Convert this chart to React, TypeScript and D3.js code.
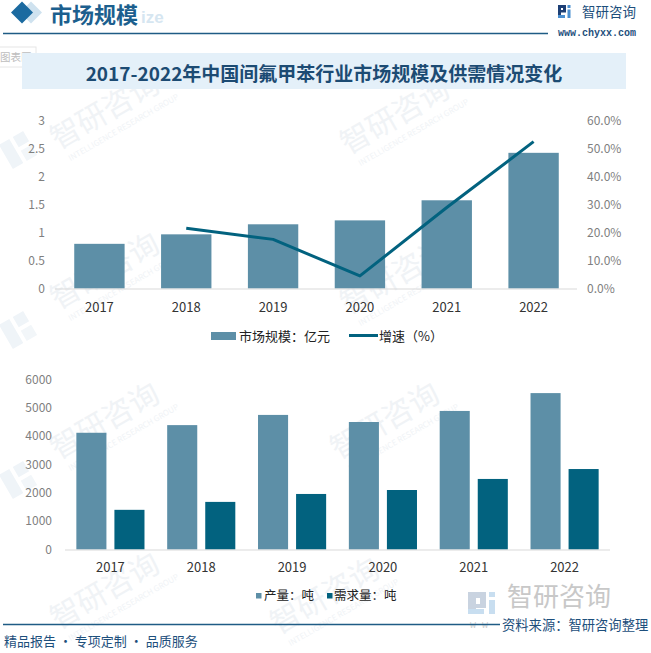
import React from "react";
import * as d3 from "d3";

const years = ["2017", "2018", "2019", "2020", "2021", "2022"];
const marketSize = [0.8, 0.97, 1.15, 1.22, 1.58, 2.43];
const growthRate: (number | null)[] = [null, 0.216, 0.176, 0.045, 0.29, 0.526];
const production = [4120, 4390, 4750, 4500, 4890, 5520];
const demand = [1400, 1680, 1960, 2100, 2490, 2840];

const leftTicksTop = [0, 0.5, 1, 1.5, 2, 2.5, 3];
const rightTicksTop = [0, 0.1, 0.2, 0.3, 0.4, 0.5, 0.6];
const ticksBottom = [0, 1000, 2000, 3000, 4000, 5000, 6000];
const seriesBottom = ["产量：吨", "需求量：吨"];

const BAR_LIGHT = "#5d8fa7";
const BAR_DARK = "#02627f";
const FONT = "'Noto Sans CJK SC', 'Noto Sans', sans-serif";
const NAVY = "#1d4f7c";

const watermarkSpots = [
  [110, 120], [400, 125],
  [110, 280], [400, 285],
  [110, 430], [390, 430],
  [110, 600], [330, 605],
];

export default function App() {
  const W = 651, H = 653;

  // top chart
  const x0 = d3.scaleBand<string>().domain(years).range([56, 577]).paddingInner(0.42).paddingOuter(0.21);
  const yL = d3.scaleLinear().domain([0, 3]).range([288.5, 121]);
  const yR = d3.scaleLinear().domain([0, 0.6]).range([288.5, 121]);
  const linePts = years
    .map((yr, i) => ({ yr, v: growthRate[i] }))
    .filter((d) => d.v !== null) as { yr: string; v: number }[];
  const lineGen = d3
    .line<{ yr: string; v: number }>()
    .x((d) => (x0(d.yr) as number) + x0.bandwidth() / 2)
    .y((d) => yR(d.v));
  const fmtPct = d3.format(".1%");

  // bottom chart
  const x1 = d3.scaleBand<string>().domain(years).range([65, 610]).paddingInner(0.25).paddingOuter(0.125);
  const xs = d3.scaleBand<string>().domain(seriesBottom).range([0, x1.bandwidth()]).paddingInner(0.21);
  const yB = d3.scaleLinear().domain([0, 6000]).range([549.5, 379.5]);
  const seriesVals = [production, demand];
  const seriesColors = [BAR_LIGHT, BAR_DARK];

  return (
    <svg
      width={W}
      height={H}
      viewBox={`0 0 ${W} ${H}`}
      style={{ position: "absolute", left: 0, top: 0, background: "#fff", fontFamily: FONT }}
    >
      <rect x={0} y={0} width={W} height={H} fill="#fff" />

      {/* watermarks */}
      <g>
        {watermarkSpots.map(([cx, cy], i) => (
          <g key={i} transform={`translate(${cx},${cy}) rotate(-30)`}>
            <text x={0} y={0} textAnchor="middle" fontSize={30} fill="#f0f3f6" fontWeight={400}>
              智研咨询
            </text>
            <text x={8} y={16} textAnchor="middle" fontSize={8} fill="#f0f3f6">
              INTELLIGENCE RESEARCH GROUP
            </text>
          </g>
        ))}
        {[150, 330, 480].map((cy, i) => (
          <g key={"l" + i} transform={`translate(18,${cy}) rotate(-30)`}>
            <rect x={-14} y={-14} width={12} height={28} fill="#eff4f8" />
            <rect x={2} y={-14} width={12} height={12} fill="#eff4f8" />
            <rect x={2} y={2} width={12} height={12} fill="#f2f6f9" />
          </g>
        ))}
      </g>

      {/* header */}
      <polygon points="31,1.5 42,12.5 31,23.5 20,12.5" fill="#cfe2ef" />
      <polygon points="22,1.5 33,12.5 22,23.5 11,12.5" fill="#1b6aa0" />
      <text x={141} y={23} fontSize={17} fontWeight={700} fill="#d6e6f1" fontFamily="'Liberation Sans', sans-serif">
        ize
      </text>
      <text x={50} y={23} fontSize={22} fontWeight={700} fill="#1c5f8e">
        市场规模
      </text>
      <line x1={3} x2={548} y1={33.5} y2={33.5} stroke="#1f5c85" strokeWidth={1.5} />
      {/* logo */}
      <g>
        <rect x={558} y={5} width={3} height={13} fill="#1d3f75" />
        <rect x={558} y={5} width={8} height={3} fill="#1d3f75" />
        <rect x={563} y={5} width={3} height={7} fill="#1d3f75" />
        <rect x={558} y={10} width={8} height={2.5} fill="#1d3f75" />
        <rect x={558} y={15} width={7} height={3} fill="#4a8fd0" />
        <rect x={567.5} y={5} width={3} height={3} fill="#4a8fd0" />
        <rect x={567.5} y={9.5} width={3} height={8.5} fill="#4a8fd0" />
      </g>
      <text x={582} y={17} fontSize={13.5} fill={NAVY}>
        智研咨询
      </text>
      <text x={558} y={35.5} fontSize={10} fill={NAVY} fontFamily="'Liberation Mono', monospace" fontWeight={700}>
        www.chyxx.com
      </text>

      {/* tooltip fragment */}
      <rect x={-1} y={47} width={37} height={20} fill="#fff" stroke="#e6e6e6" />
      <text x={0} y={61} fontSize={10.5} fill="#bdbdbd">
        图表区
      </text>

      {/* title */}
      <rect x={22} y={53} width={604} height={36} fill="#e4f0f9" />
      <text x={324} y={80.5} textAnchor="middle" fontSize={19} fontWeight={700} fill="#1c4b73">
        2017-2022年中国间氟甲苯行业市场规模及供需情况变化
      </text>

      {/* top chart */}
      {leftTicksTop.map((t) => (
        <text key={"lt" + t} x={45} y={yL(t)} dy="0.35em" textAnchor="end" fontSize={12} fill="#7f7f7f">
          {String(t)}
        </text>
      ))}
      {rightTicksTop.map((t) => (
        <text key={"rt" + t} x={587} y={yR(t)} dy="0.35em" textAnchor="start" fontSize={12} fill="#7f7f7f">
          {fmtPct(t)}
        </text>
      ))}
      {years.map((yr, i) => (
        <rect
          key={"b" + yr}
          x={x0(yr)}
          y={yL(marketSize[i])}
          width={x0.bandwidth()}
          height={yL(0) - yL(marketSize[i])}
          fill={BAR_LIGHT}
        />
      ))}
      <line x1={55} x2={577} y1={289} y2={289} stroke="#d9d9d9" strokeWidth={1} />
      <path d={lineGen(linePts) || ""} fill="none" stroke={BAR_DARK} strokeWidth={3} strokeLinejoin="round" />
      {years.map((yr) => (
        <text
          key={"xt" + yr}
          x={(x0(yr) as number) + x0.bandwidth() / 2}
          y={307}
          dy="0.35em"
          textAnchor="middle"
          fontSize={13}
          fill="#333"
        >
          {yr}
        </text>
      ))}
      {/* top legend */}
      <rect x={211} y={332} width={25} height={8} fill={BAR_LIGHT} />
      <text x={239} y={336} dy="0.35em" fontSize={13} fill="#222">
        市场规模：亿元
      </text>
      <line x1={349} x2={378} y1={335.5} y2={335.5} stroke={BAR_DARK} strokeWidth={3} />
      <text x={379} y={336} dy="0.35em" fontSize={13} fill="#222">
        增速（%）
      </text>

      {/* bottom chart */}
      {ticksBottom.map((t) => (
        <text key={"bt" + t} x={52} y={yB(t)} dy="0.35em" textAnchor="end" fontSize={12} fill="#7f7f7f">
          {String(t)}
        </text>
      ))}
      {years.map((yr, i) => (
        <g key={"g" + yr} transform={`translate(${x1(yr)},0)`}>
          {seriesBottom.map((s, j) => (
            <rect
              key={s}
              x={xs(s)}
              y={yB(seriesVals[j][i])}
              width={xs.bandwidth()}
              height={yB(0) - yB(seriesVals[j][i])}
              fill={seriesColors[j]}
            />
          ))}
        </g>
      ))}
      <line x1={65} x2={610} y1={550} y2={550} stroke="#d9d9d9" strokeWidth={1} />
      {years.map((yr) => (
        <text
          key={"xb" + yr}
          x={(x1(yr) as number) + x1.bandwidth() / 2}
          y={567.5}
          dy="0.35em"
          textAnchor="middle"
          fontSize={13}
          fill="#333"
        >
          {yr}
        </text>
      ))}
      {/* bottom legend */}
      <rect x={256} y={593} width={5.5} height={5.5} fill={BAR_LIGHT} />
      <text x={264} y={596} dy="0.35em" fontSize={12.5} fill="#222">
        {seriesBottom[0]}
      </text>
      <rect x={327} y={593} width={5.5} height={5.5} fill={BAR_DARK} />
      <text x={334} y={596} dy="0.35em" fontSize={12.5} fill="#222">
        {seriesBottom[1]}
      </text>

      {/* footer */}
      <g>
        <rect x={468} y={592} width={8} height={22} fill="#c9d3e0" />
        <rect x={476} y={592} width={10} height={6} fill="#c9d3e0" />
        <rect x={480} y={598} width={6} height={6} fill="#c9d3e0" />
        <rect x={476} y={604} width={10} height={4} fill="#c9d3e0" />
        <rect x={489} y={592} width={6} height={5} fill="#c8def0" />
        <rect x={489} y={600} width={6} height={14} fill="#c8def0" />
        <rect x={468} y={609} width={16} height={5} fill="#c8def0" />
      </g>
      <text x={507} y={606} fontSize={26} fill="#c8c8c8">
        智研咨询
      </text>
      <text x={470} y={628} fontSize={10} fill="#cfcfcf" fontFamily="'Liberation Mono', monospace">
        w w
      </text>
      <line x1={3} x2={500} y1={624.5} y2={624.5} stroke="#1f5c85" strokeWidth={1.5} />
      <text x={502} y={625} dy="0.35em" fontSize={13.3} fill={NAVY}>
        资料来源：智研咨询整理
      </text>
      <text x={4} y={641} dy="0.35em" fontSize={13} fill={NAVY}>
        精品报告 · 专项定制 · 品质服务
      </text>
    </svg>
  );
}
